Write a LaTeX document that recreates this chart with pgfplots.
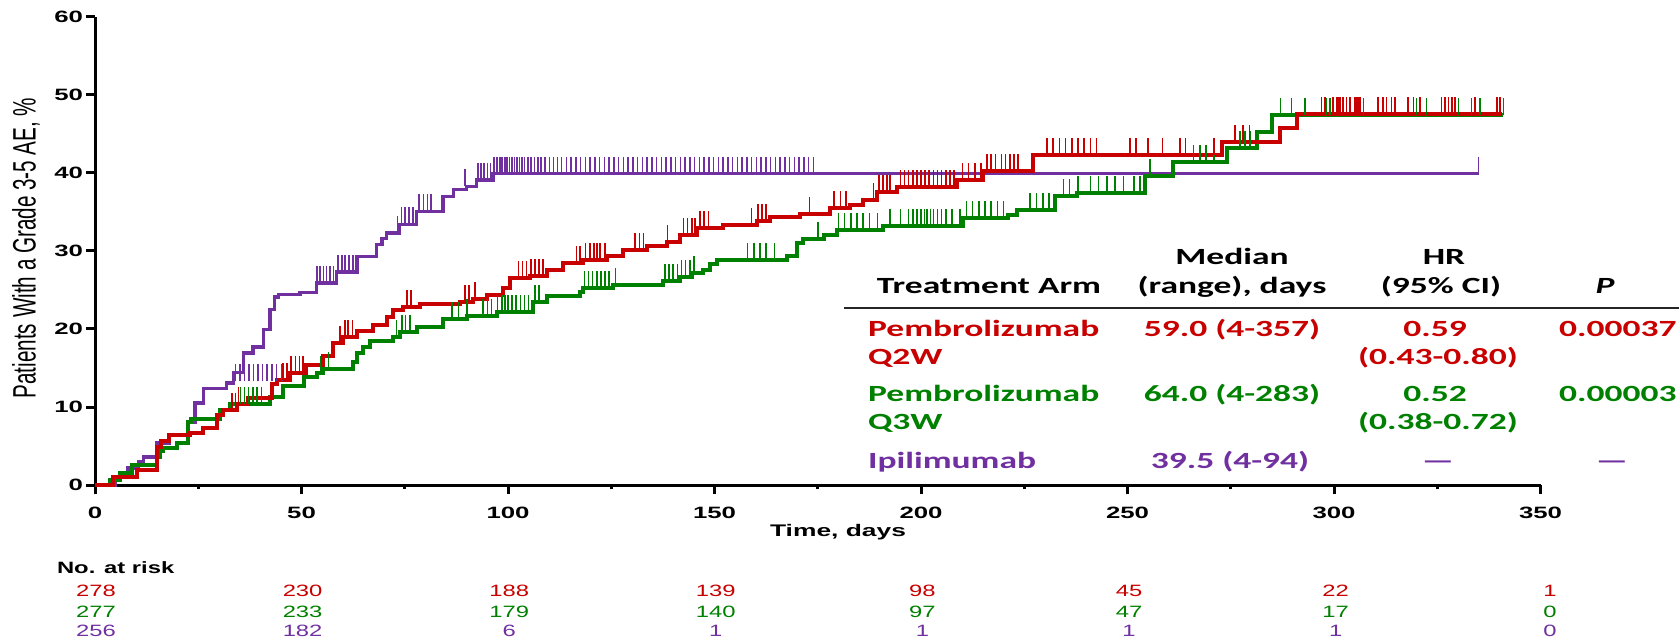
\documentclass[border=0pt]{standalone}
\usepackage{pgfplots}
\pgfplotsset{compat=1.18}
\usepackage{fontspec}
\setmainfont{Liberation Sans}
\newfontfamily\tickfont[FakeStretch=1.57]{Liberation Sans}
\newfontfamily\ylabfont[FakeStretch=0.637]{Liberation Sans}
\newfontfamily\riskfont[FakeStretch=1.45]{Liberation Sans}
\newfontfamily\tabfont[FakeStretch=1.53]{Carlito}
\newcommand\tb{\tabfont\bfseries\fontsize{11.6}{14}\selectfont}
\definecolor{kmred}{RGB}{200,0,0}
\definecolor{kmgreen}{RGB}{0,128,0}
\definecolor{kmpurple}{RGB}{112,48,160}
\pgfdeclareplotmark{cens}{\pgfpathmoveto{\pgfqpoint{0pt}{0pt}}\pgfpathlineto{\pgfqpoint{0pt}{8.5pt}}\pgfusepathqstroke}

\begin{document}
\begin{tikzpicture}
\useasboundingbox (0,0) rectangle (839.5pt,318.5pt);
\begin{axis}[
  at={(47.5pt,76pt)}, anchor=south west,
  width=722.75pt, height=234pt, scale only axis,
  xmin=0, xmax=350, ymin=0, ymax=60,
  axis lines*=left, axis line style={-, line width=1.5pt, black},
  xtick={0,50,100,150,200,250,300,350},
  xticklabels={0,50,100,150,200,250,300,350},
  minor xtick={25,75,125,175,225,275,325},
  ytick={0,10,20,30,40,50,60},
  yticklabels={0,10,20,30,40,50,60},
  tick align=outside, major tick length=4.5pt, minor tick length=2.2pt,
  tick style={black, line width=1.5pt},
  tick label style={font=\tickfont\bfseries\fontsize{8.2}{9}\selectfont},
  xticklabel style={yshift=-3pt},
  yticklabel style={xshift=2pt},
  clip=false,
]
% ---------- Ipilimumab ----------
\addplot[kmpurple, only marks, mark=cens, line width=0.8pt] coordinates {
(34.0,13.3)(35.1,13.3)(36.2,13.3)(37.3,13.3)(38.4,13.3)(39.5,13.3)(40.6,13.3)(41.7,13.3)(42.8,13.3)(43.9,13.3)(45.3,13.3)
(53.7,25.9)(54.5,25.9)(55.3,25.9)(56.1,25.9)(56.9,25.9)(57.7,25.9)(58.9,27.3)(59.8,27.3)(60.6,27.3)(61.5,27.3)(62.4,27.3)
(73.2,32.3)(74.2,33.4)(75,33.4)(76,33.4)(77,33.4)(78.5,35.1)(79.5,35.1)(80.5,35.1)(81.3,35.1)
(89.6,38.3)(92.8,39.1)(93.5,39.1)(94.2,39.1)(95,39.1)(95.8,39.1)
(96.6,39.9)(97.3,39.9)(98,39.9)(98.6,39.9)(99.2,39.9)(99.8,39.9)(100.4,39.9)(101,39.9)(101.6,39.9)(102.2,39.9)
(102.8,39.9)(103.4,39.9)(104,39.9)(104.8,39.9)(105.6,39.9)(106.4,39.9)(107.2,39.9)(108,39.9)(109,39.9)(110,39.9)
(111,39.9)(112,39.9)(113,39.9)(114.2,39.9)(115.3,39.9)(116.5,39.9)(117.6,39.9)(118.8,39.9)(119.9,39.9)(121.1,39.9)
(122.2,39.9)(123.4,39.9)(124.5,39.9)(125.7,39.9)(126.8,39.9)(128.0,39.9)(129.1,39.9)(130.3,39.9)(131.4,39.9)(132.6,39.9)
(133.7,39.9)(134.9,39.9)(136.0,39.9)(137.2,39.9)(138.3,39.9)(139.5,39.9)(140.6,39.9)(141.8,39.9)(142.9,39.9)(144.1,39.9)
(145.2,39.9)(146.4,39.9)(147.5,39.9)(148.7,39.9)(149.8,39.9)(151.0,39.9)(152.1,39.9)(153.3,39.9)(154.4,39.9)(155.6,39.9)
(156.7,39.9)(157.9,39.9)(159.0,39.9)(160.2,39.9)(161.3,39.9)(162.5,39.9)(163.6,39.9)(164.8,39.9)(165.9,39.9)(167.1,39.9)
(168.2,39.9)(169.4,39.9)(170.5,39.9)(171.7,39.9)(172.8,39.9)(174.0,39.9)(335,39.9)
};
\addplot[kmpurple, line width=1.7pt, const plot, mark=none] coordinates {
(0,0)(5,1.0)(8,2.2)(10.5,3.0)(11.7,3.6)(14.9,5.4)(18,6.4)(22.6,8.1)(24.2,10.5)(26.2,12.4)(31.9,13.1)
(33.5,14.4)(35.9,16.9)(38.3,17.7)(40.8,19.9)(42.4,22.5)(43.4,24.1)(44.5,24.4)(49.6,24.7)(53.7,25.9)
(58.5,27.3)(63.4,29.3)(68.2,30.8)(69.5,31.6)(70.6,32.3)(73.8,33.4)(77.9,35.1)(84.3,37.0)(86.8,37.9)
(90,38.3)(92.4,39.1)(96.4,39.9)(335,39.9)
};
% ---------- Pembrolizumab Q3W ----------
\addplot[kmgreen, only marks, mark=cens, line width=0.8pt] coordinates {
(35.2,10.4)(36.2,10.4)(37.2,10.4)(38.2,10.4)(39.2,10.4)(40.3,10.4)
(54.6,14.3)(56.5,14.9)
(73,19.0)(74.3,19.6)(75.2,19.6)(76.2,19.6)
(86.5,21.3)(88,21.3)(90,21.7)
(94,21.7)(95,21.7)(96,21.7)(97.5,22.2)(98.5,22.2)(99.3,22.2)(100,22.2)(101,22.2)(102,22.2)(103,22.2)(104,22.2)(105,22.2)(106.5,23.5)(107.5,23.5)
(118.5,25.2)(119.5,25.2)(120.5,25.2)(121.5,25.2)(122.5,25.2)(123.5,25.2)(124.5,25.2)(126,25.6)
(138,26.1)(139,26.1)(140,26.1)(141,26.1)(142,26.7)(143,26.7)(144,26.7)(145,27.2)
(158,28.8)(159.5,28.8)(161,28.8)(162.5,28.8)(164.5,28.8)
(175,31.5)
(180,32.7)(181.5,32.7)(183,32.7)(184.5,32.7)(186,32.7)(187.5,32.7)(189.5,32.7)
(192.5,33.2)(195,33.2)(197,33.2)(198,33.2)(199,33.2)(200,33.2)(200.8,33.2)(201.5,33.2)(202.3,33.2)(203,33.2)(204,33.2)(205,33.2)(206,33.2)(207.5,33.2)(209.4,33.2)
(211,34.2)(212.5,34.2)(214,34.2)(215.5,34.2)(217,34.2)(218.5,34.2)(220,34.2)
(226.4,35.3)(228,35.3)(229.5,35.3)(231,35.3)
(234.5,37.0)(236,37.0)(238,37.4)
(241,37.4)(243,37.4)(245,37.4)(247,37.4)(249,37.4)(251.5,37.4)(253,37.4)
(255.4,39.6)
(266,41.4)(267.5,41.4)(269,41.4)(271,41.4)
(277.2,43.2)(278.5,43.2)(279.6,43.2)
(287,47.4)(289.7,47.4)(293,47.4)(298.2,47.4)(299,47.4)(307.1,47.4)(320,47.4)(322.4,47.4)(330.1,47.4)(333.3,47.4)(335.3,47.4)(341,47.4)
};
\addplot[kmgreen, line width=2pt, const plot, mark=none] coordinates {
(0,0)(3.6,0.6)(6.1,1.5)(8.9,2.6)(14.9,3.6)(15.7,4.4)(16.5,4.7)(19.8,5.4)(22.6,8.1)(23.2,8.4)(30.3,9.6)
(32.7,10.4)(42.4,11.3)(45.6,12.7)(50.5,13.8)(53.7,14.3)(55.3,14.9)(62.5,15.8)(63.5,16.9)(65,17.7)
(66.5,18.4)(72.2,19.0)(73.8,19.6)(77.9,20.3)(84.3,21.3)(90,21.7)(97.3,22.2)(106.1,23.5)(109.4,24.2)
(117.4,24.8)(118.2,25.2)(125.5,25.6)(137.6,26.1)(141.6,26.7)(144.5,27.2)(147.3,27.6)(148.9,28.3)
(150.5,28.8)(167.5,29.3)(169.9,31.0)(171.5,31.5)(176.4,32.1)(179.6,32.7)(190.9,33.2)(210.2,34.2)
(221,34.6)(223.2,35.3)(232.4,37.0)(237.7,37.4)(254.2,39.6)(261.1,41.4)(274,43.2)(281.3,45.3)
(284.9,47.4)(341,47.4)
};
% ---------- Pembrolizumab Q2W ----------
\addplot[kmred, only marks, mark=cens, line width=0.8pt] coordinates {
(33.2,9.6)(34.0,9.6)(34.7,10.4)
(45.5,13.5)(46.5,13.5)(47.5,14.4)(48.5,14.4)(49.5,14.4)(50.3,14.4)
(59.3,18.2)(60.5,19.0)(61.3,19.0)(62.3,19.0)
(75.5,22.8)(76.5,22.8)
(89.6,23.5)(90.5,23.5)(92,23.9)
(102.5,26.6)(103.5,26.6)(104.5,26.6)(105.5,26.8)(106.5,26.8)(107.5,26.8)(108.5,26.8)
(116.6,28.5)(117.5,28.5)(118.8,28.9)(119.8,28.9)(120.8,28.9)(121.5,28.9)(122.3,28.9)(123.5,28.9)
(130.8,30.1)(131.8,30.1)(132.8,30.1)
(138.6,31.2)
(142.5,32.1)(143.5,32.1)(144.5,32.1)(145.3,32.1)
(146.5,32.9)(147.5,32.9)(148.5,32.9)
(159,33.3)(160.5,33.8)(161.5,33.8)(162.5,33.8)
(173,34.8)
(179,35.5)(180.5,35.5)(181.8,35.5)
(188.5,36.5)(189.8,37.6)(190.8,37.6)(191.8,37.6)(192.5,37.6)
(195,38.2)(196,38.2)(197,38.2)(198,38.2)(199,38.2)(200,38.2)(201,38.2)(202,38.2)(203,38.2)(204,38.2)(205,38.2)(206,38.2)(207,38.2)(208,38.2)
(210,39.1)(211.5,39.1)(213,39.1)(214.5,39.1)
(216,40.3)(217,40.3)(218,40.3)(219.5,40.3)(220.5,40.3)(221.5,40.3)(222.5,40.3)(223.5,40.3)
(230.5,42.3)(232,42.3)(233.5,42.3)(235,42.3)(236.5,42.3)(238,42.3)(239.5,42.3)(241,42.3)(242.5,42.3)
(250.6,42.3)(252,42.3)(255,42.3)(258.5,42.3)(262.7,42.3)(264,42.3)(271,42.3)
(276,44.0)(278,44.0)(279.5,44.0)
(297.0,47.6)(297.8,47.6)(299.8,47.6)(300.6,47.6)(301.0,47.6)(301.4,47.6)(302.2,47.6)(303.0,47.6)(303.9,47.6)
(305.1,47.6)(305.5,47.6)(305.9,47.6)(306.3,47.6)(310.7,47.6)(311.9,47.6)(312.7,47.6)(313.9,47.6)(314.7,47.6)
(317.9,47.6)(319.2,47.6)(320.8,47.6)(326.0,47.6)(326.9,47.6)(327.7,47.6)(328.5,47.6)(329.3,47.6)(334.2,47.6)
(339.4,47.6)(340.2,47.6)
};
\addplot[kmred, line width=2pt, const plot, mark=none] coordinates {
(0,0)(4.4,1.0)(10.1,1.9)(14.9,4.9)(16.1,5.7)(18,6.4)(23,6.7)(26.2,7.3)(29.5,9.0)(31.1,9.6)(34.3,10.4)
(37,11.1)(42.8,13.0)(44,13.5)(47.2,14.4)(51,15.4)(55.3,16.5)(57.7,18.2)(60.1,19.0)(63.4,19.7)(67.4,20.5)
(70.6,21.5)(72.2,22.4)(74.6,22.8)(78.7,23.2)(88.4,23.5)(91.6,23.9)(94.8,24.3)(98.9,25.2)(100.5,26.6)
(105.3,26.8)(109.4,27.6)(113.4,28.5)(118.2,28.9)(123.9,29.3)(127.9,30.1)(133.6,30.6)(138.4,31.2)
(141.6,32.1)(145.7,32.9)(152.1,33.3)(160.2,33.8)(163.4,34.4)(170.7,34.8)(177.9,35.5)(182.8,35.9)
(186,36.5)(189.3,37.6)(194.1,38.2)(208.6,39.1)(215.1,40.3)(227,42.3)(272.8,44.0)(286.9,45.8)
(291,47.6)(340.6,47.6)
};
\end{axis}
% axis titles
\node[font=\ylabfont\fontsize{16.2}{18}\selectfont, rotate=90] at (13pt,194.5pt) {Patients With a Grade 3-5 AE, \%};
\node[font=\tickfont\bfseries\fontsize{8.4}{10}\selectfont] at (419pt,52.5pt) {Time, days};
% number at risk
\node[anchor=west, font=\riskfont\bfseries\fontsize{8.2}{10}\selectfont] at (25pt,34.75pt) {No. at risk};
\foreach \x/\a/\b/\c in {48/278/277/256, 151.3/230/233/182, 254.6/188/179/6, 357.9/139/140/1,
  461.2/98/97/1, 564.5/45/47/1, 667.8/22/17/1, 775/1/0/0} {
  \node[text=kmred, font=\riskfont\fontsize{8.2}{10}\selectfont] at (\x pt,23.15pt) {\a};
  \node[text=kmgreen, font=\riskfont\fontsize{8.2}{10}\selectfont] at (\x pt,12.65pt) {\b};
  \node[text=kmpurple, font=\riskfont\fontsize{8.2}{10}\selectfont] at (\x pt,3.1pt) {\c};
}
% summary table
\node[anchor=base, font=\tb] at (616pt,186pt) {Median};
\node[anchor=base, font=\tb] at (616pt,171.5pt) {(range), days};
\node[anchor=base, font=\tb] at (494.5pt,171.5pt) {Treatment Arm};
\node[anchor=base, font=\tb] at (722pt,186pt) {HR};
\node[anchor=base, font=\tb] at (720.5pt,171.5pt) {(95\% CI)};
\node[anchor=base, font=\tb\itshape] at (802.5pt,171.5pt) {P};
\draw[line width=1pt, black!85] (422pt,164.5pt) -- (839.5pt,164.5pt);
\node[anchor=base west, text=kmred, font=\tb] at (430.5pt,150.2pt) {Pembrolizumab};
\node[anchor=base, text=kmred, font=\tb] at (616pt,150.2pt) {59.0 (4-357)};
\node[anchor=base, text=kmred, font=\tb] at (717.5pt,150.2pt) {0.59};
\node[anchor=base east, text=kmred, font=\tb, inner sep=0pt] at (838.5pt,150.2pt) {0.00037};
\node[anchor=base west, text=kmred, font=\tb] at (430.5pt,136pt) {Q2W};
\node[anchor=base, text=kmred, font=\tb] at (719pt,136pt) {(0.43-0.80)};
\node[anchor=base west, text=kmgreen, font=\tb] at (430.5pt,117.7pt) {Pembrolizumab};
\node[anchor=base, text=kmgreen, font=\tb] at (616pt,117.7pt) {64.0 (4-283)};
\node[anchor=base, text=kmgreen, font=\tb] at (717.5pt,117.7pt) {0.52};
\node[anchor=base east, text=kmgreen, font=\tb, inner sep=0pt] at (838.5pt,117.7pt) {0.00003};
\node[anchor=base west, text=kmgreen, font=\tb] at (430.5pt,103.5pt) {Q3W};
\node[anchor=base, text=kmgreen, font=\tb] at (719pt,103.5pt) {(0.38-0.72)};
\node[anchor=base west, text=kmpurple, font=\tb] at (430.5pt,84.3pt) {Ipilimumab};
\node[anchor=base, text=kmpurple, font=\tb] at (615pt,84.3pt) {39.5 (4-94)};
\node[anchor=base, text=kmpurple, font=\tb] at (719pt,84.3pt) {\textemdash};
\node[anchor=base, text=kmpurple, font=\tb] at (806pt,84.3pt) {\textemdash};
\end{tikzpicture}
\end{document}
